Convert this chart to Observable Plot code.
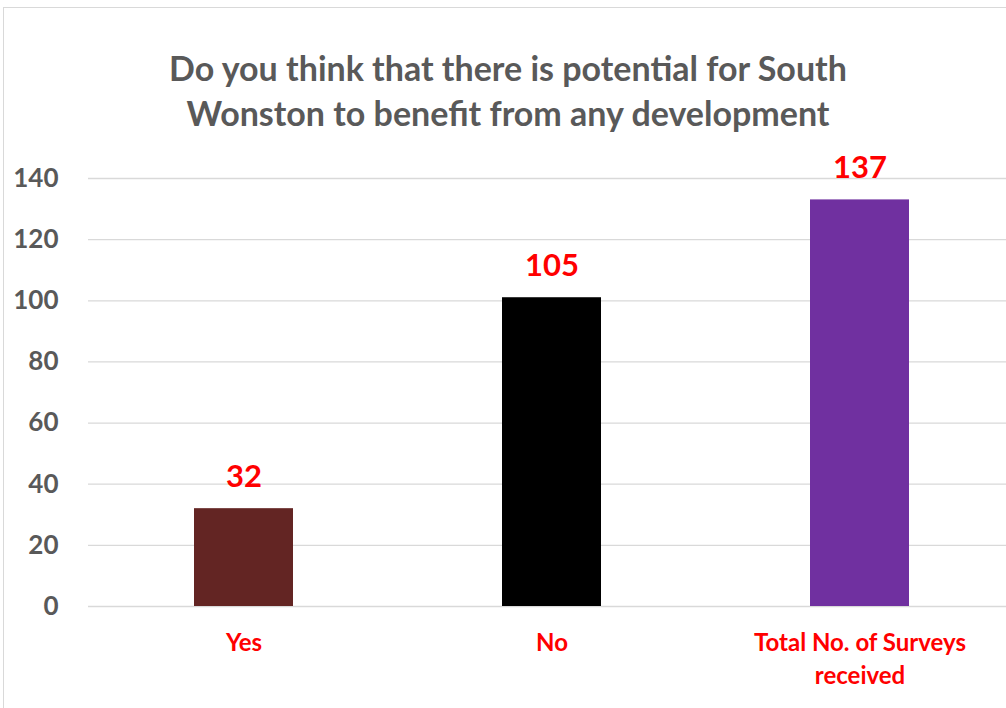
<!DOCTYPE html>
<html>
<head>
<meta charset="utf-8">
<script src="https://cdn.jsdelivr.net/npm/d3@7"></script>
<script src="https://cdn.jsdelivr.net/npm/@observablehq/plot@0.6"></script>
<style>
  html, body { margin: 0; padding: 0; background: #fff; }
  #wrap { position: relative; width: 1006px; height: 708px; overflow: hidden; background: #fff; font-family: Lato, "Open Sans", sans-serif; }
  #frame { position: absolute; left: 3px; top: 7px; width: 1100px; height: 800px; border-left: 1px solid #d9d9d9; border-top: 1px solid #d9d9d9; }
  #title { position: absolute; left: 0; width: 1016px; top: 45px; text-align: center; font-weight: 700; font-size: 34px; line-height: 45px; color: #595959; }
  #chart { position: absolute; left: 0; top: 0; width: 1016px; height: 708px; }
  #chart svg { max-width: none !important; }
</style>
</head>
<body>
<div id="wrap">
  <div id="frame"></div>
  <div id="chart"></div>
  <div id="title">Do you think that there is potential for South<br>Wonston to benefit from any development</div>
</div>
<script>
const categories = ["Yes", "No", "Total No. of Surveys\nreceived"];
const values = [32, 101, 133];
const labels = ["32", "105", "137"];
const colors = ["#632523", "#000000", "#7030A0"];
const yTicks = [0, 20, 40, 60, 80, 100, 120, 140];

const data = categories.map((c, i) => ({category: c, value: values[i], label: labels[i], color: colors[i]}));

const chart = Plot.plot({
  width: 1016,
  height: 708,
  marginLeft: 88,
  marginRight: 2,
  marginTop: 178,
  marginBottom: 102,
  style: {fontFamily: "Lato, 'Open Sans', sans-serif", background: "transparent", overflow: "visible", maxWidth: "none"},
  x: {domain: categories, paddingInner: 0.68, paddingOuter: 0.34, axis: null, label: null},
  y: {domain: [0, 140], axis: null, label: null},
  marks: [
    Plot.gridY(yTicks, {stroke: "#d9d9d9", strokeOpacity: 1, strokeWidth: 1.3}),
    Plot.axisY(yTicks, {tickSize: 0, tickPadding: 30, fontSize: 26, fontWeight: 700, fill: "#595959", label: null}),
    Plot.axisX({tickSize: 0, tickPadding: 21, fontSize: 24, fontWeight: 700, fill: "#ff0000", lineHeight: 1.38, textAnchor: "middle", label: null}),
    Plot.barY(data, {x: "category", y: "value", fill: "color"}),
    Plot.text(data, {x: "category", y: "value", text: "label", dy: -32, fill: "#ff0000", fontSize: 31, fontWeight: 700})
  ]
});
document.getElementById("chart").appendChild(chart);
</script>
</body>
</html>
